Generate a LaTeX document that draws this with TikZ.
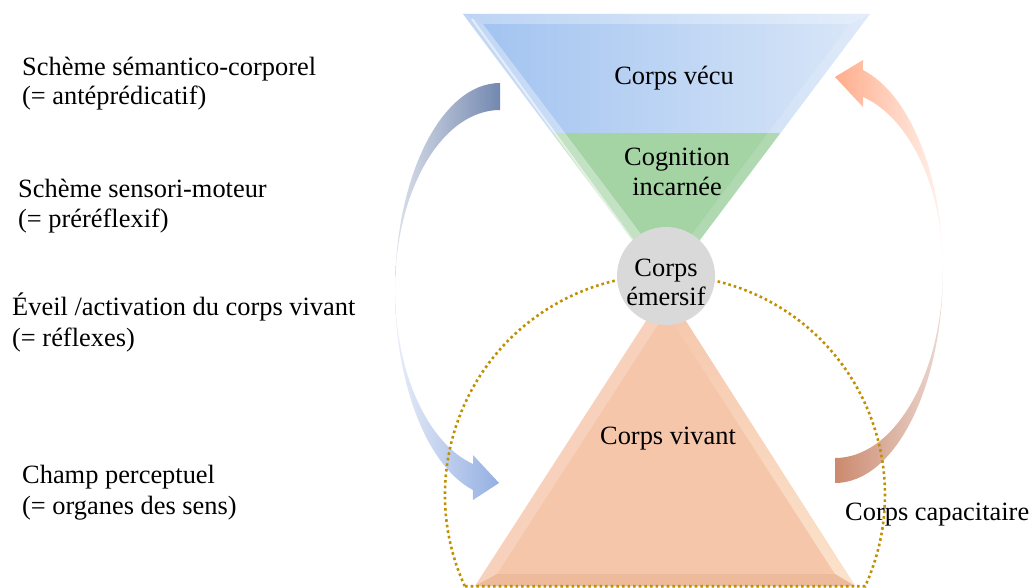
\documentclass[tikz,border=0pt]{standalone}
\usepackage{fontspec}
\setmainfont{Liberation Serif}
\begin{document}
\begin{tikzpicture}[x=1pt,y=-1pt,
  lbl/.style={inner sep=0pt, font=\fontsize{26.4}{30}\selectfont, text=black},
  dotline/.style={draw=dotgold, line width=2.6pt, dash pattern=on 2.6pt off 3pt},
]
\definecolor{blueL}{HTML}{A0C2F0}
\definecolor{blueR}{HTML}{DAE7F8}
\definecolor{greenF}{HTML}{A4D3A4}
\definecolor{peachF}{HTML}{F5C6AA}
\definecolor{grayF}{HTML}{D9D9D9}
\definecolor{dotgold}{HTML}{BF9000}
\definecolor{slateR}{HTML}{7388B0}
\definecolor{slateL}{HTML}{DCE1EA}
\definecolor{lblueR}{HTML}{93AFE2}
\definecolor{lblueL}{HTML}{E8EDF8}
\definecolor{salmonL}{HTML}{FFAD8B}
\definecolor{salmonR}{HTML}{FFF3EE}
\definecolor{brownL}{HTML}{CC896E}
\definecolor{brownR}{HTML}{EBD9D2}
\definecolor{peachHi}{HTML}{FBE3CC}
\definecolor{peachLo}{HTML}{E9B294}
\useasboundingbox (0,0) rectangle (1032,588);

% ---------- top inverted triangle ----------
\begin{scope}
  \clip (463,14) -- (870,14) -- (666,285) -- cycle;
  \shade[left color=blueL, right color=blueR] (463,14) rectangle (870,133);
  \fill[greenF] (463,133) rectangle (870,290);
  \fill[white, opacity=.3] (463,14) -- (870,14) -- (850,24) -- (483,24) -- cycle;
  \fill[white, opacity=.35] (463,14) -- (483,24) -- (666.5,268) -- (666,285) -- cycle;
  \fill[white, opacity=.15] (870,14) -- (850,24) -- (666.5,268) -- (666,285) -- cycle;
  \draw[white, opacity=.55, line width=2pt] (472,19) -- (660,278);
\end{scope}

% ---------- bottom triangle ----------
\fill[peachF] (666,290) -- (475,586) -- (855,586) -- cycle;
\fill[white, opacity=.2] (666,290) -- (475,586) -- (497,574) -- (666,312) -- cycle;
\shade[top color=peachF, bottom color=peachHi] (666,290) -- (855,586) -- (835,574) -- (666,312) -- cycle;
\fill[peachLo, opacity=.6] (475,586) -- (855,586) -- (835,574) -- (497,574) -- cycle;

% ---------- left curved arrow ----------
\shade[left color=slateL, right color=slateR]
  (500,83) arc[start angle=270, end angle=180, x radius=105, y radius=207]
  arc[start angle=180, end angle=270, x radius=105, y radius=180] -- cycle;
\shade[left color=lblueL, right color=lblueR]
  (395,290) arc[start angle=180, end angle=105, x radius=105, y radius=207]
  -- (473,500) -- (499,483) -- (473,455) -- (473,464)
  arc[start angle=105, end angle=180, x radius=105, y radius=180] -- cycle;

% ---------- right curved arrow ----------
\shade[left color=salmonL, right color=salmonR]
  (943,270) arc[start angle=0, end angle=-75, x radius=108, y radius=207]
  -- (863,60) -- (835,77) -- (863,107) -- (863,97)
  arc[start angle=-75, end angle=0, x radius=108, y radius=179] -- cycle;
\shade[left color=brownL, right color=brownR]
  (943,270) arc[start angle=0, end angle=90, x radius=108, y radius=213]
  -- (835,458)
  arc[start angle=90, end angle=0, x radius=108, y radius=188] -- cycle;

% ---------- dotted boundary ----------
\draw[dotline] (464.8,586.2) arc[start angle=155.5, end angle=384.5, radius=220] -- cycle;

% ---------- grey circle ----------
\node[circle, fill=grayF, minimum size=98pt, inner sep=0pt] (em) at (666,276) {};

% ---------- texts ----------
\node[lbl, anchor=base] (vecu) at (674,85) {Corps vécu};
\node[lbl, anchor=base] (cog1) at (677,165) {Cognition};
\node[lbl, anchor=base] (cog2) at (677,195) {incarnée};
\node[lbl, anchor=base] (em1) at (666,276) {Corps};
\node[lbl, anchor=base] (em2) at (666,305) {émersif};
\node[lbl, anchor=base] (viv) at (668,444) {Corps vivant};
\node[lbl, anchor=base west] (cap) at (845,520) {Corps capacitaire};

\node[lbl, anchor=base west] (t1a) at (22,76) {Schème sémantico-corporel};
\node[lbl, anchor=base west] (t1b) at (22,105) {(= antéprédicatif)};
\node[lbl, anchor=base west] (t2a) at (18,197) {Schème sensori-moteur};
\node[lbl, anchor=base west] (t2b) at (18,227) {(= préréflexif)};
\node[lbl, anchor=base west] (t3a) at (12,315) {Éveil /activation du corps vivant};
\node[lbl, anchor=base west] (t3b) at (12,346) {(= réflexes)};
\node[lbl, anchor=base west] (t4a) at (22,483) {Champ perceptuel};
\node[lbl, anchor=base west] (t4b) at (22,514) {(= organes des sens)};
\end{tikzpicture}
\end{document}
